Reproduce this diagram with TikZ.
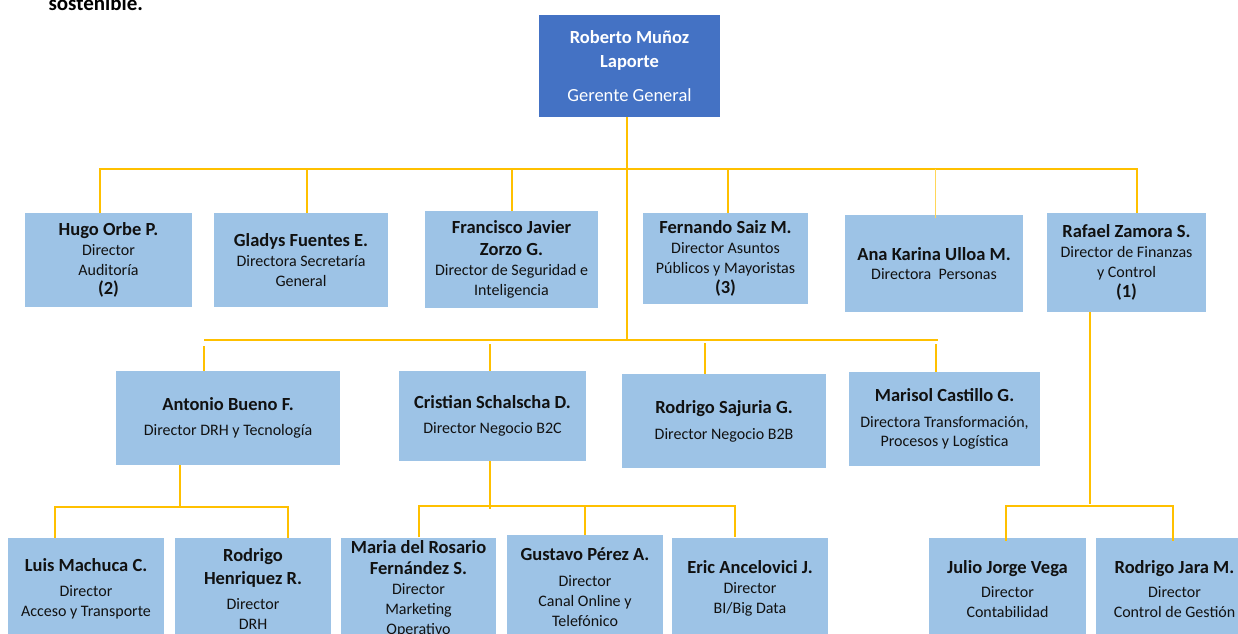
\documentclass[tikz,border=0pt]{standalone}
\usepackage{fontspec}
\setmainfont{Carlito}
\definecolor{ceoblue}{HTML}{4472C4}
\definecolor{boxblue}{HTML}{9DC3E6}
\definecolor{linegold}{HTML}{FFC000}
\definecolor{txt}{HTML}{111111}
\newcommand\nm{\fontsize{18.5}{20}\selectfont\bfseries}
\newcommand\nmb{\fontsize{18.5}{22}\selectfont\bfseries}
\begin{document}
\begin{tikzpicture}[x=1pt,y=-1pt,
  box/.style={fill=boxblue, text=txt, inner sep=0pt, align=center,
    font=\fontsize{16}{19.8}\selectfont},
  ceobox/.style={fill=ceoblue, text=white, inner sep=0pt, align=center,
    font=\fontsize{18.5}{23}\selectfont},
  conn/.style={draw=linegold, line width=1.4pt}]
\useasboundingbox (0,0) rectangle (1238,633);
\fill[white] (0,0) rectangle (1238,633);
\node[anchor=base west, font=\fontsize{21}{26}\selectfont\bfseries, text=black] (prev) at (45,10) {sostenible.};

% boxes
\node[ceobox, minimum width=181, minimum height=102] (ceo) at (629.5,66)
  {{\nmb Roberto Muñoz}\\[1pt]{\nmb Laporte}\\[11pt]Gerente General};

\node[box, minimum width=167, minimum height=94] (hugo) at (108.5,260)
  {{\nm Hugo Orbe P.}\\Director\\Auditoría\\{\nm (2)}};
\node[box, minimum width=174, minimum height=94] (gladys) at (301,260)
  {{\nm Gladys Fuentes E.}\\Directora Secretaría\\General};
\node[box, minimum width=173, minimum height=97] (fran) at (511.5,259.5)
  {{\nm Francisco Javier}\\[2pt]{\nm Zorzo G.}\\Director de Seguridad e\\Inteligencia};
\node[box, minimum width=165, minimum height=91] (fern) at (725.5,258.5)
  {{\nm Fernando Saiz M.}\\Director Asuntos\\Públicos y Mayoristas\\{\nm (3)}};
\node[box, minimum width=178, minimum height=97] (ana) at (934,263.5)
  {{\nm Ana Karina Ulloa M.}\\Directora\ \ Personas};
\node[box, minimum width=159, minimum height=99] (rafael) at (1126.5,262.5)
  {{\nm Rafael Zamora S.}\\Director de Finanzas\\y Control\\{\nm (1)}};

\node[box, minimum width=224, minimum height=94] (antonio) at (228,418)
  {{\nm Antonio Bueno F.}\\[5pt]Director DRH y Tecnología};
\node[box, minimum width=187, minimum height=90] (cristian) at (492.5,416)
  {{\nm Cristian Schalscha D.}\\[5pt]Director Negocio B2C};
\node[box, minimum width=204, minimum height=94] (rsaj) at (724,421)
  {{\nm Rodrigo Sajuria G.}\\[6pt]Director Negocio B2B};
\node[box, minimum width=191, minimum height=94] (marisol) at (944.5,419)
  {{\nm Marisol Castillo G.}\\[6pt]Directora Transformación,\\Procesos y Logística};

\node[box, minimum width=156, minimum height=102] (luis) at (86,589)
  {{\nm Luis Machuca C.}\\[5pt]Director\\Acceso y Transporte};
\node[box, minimum width=156, minimum height=102] (rhen) at (253,589)
  {{\nm Rodrigo}\\[3pt]{\nm Henriquez R.}\\[5pt]Director\\DRH};
\node[box, minimum width=155, minimum height=102] (maria) at (418.5,588.5)
  {{\nm Maria del Rosario}\\[2pt]{\nm Fernández S.}\\Director\\Marketing\\Operativo};
\node[box, minimum width=156, minimum height=104] (gustavo) at (585,587)
  {{\nm Gustavo Pérez A.}\\[6pt]Director\\Canal Online y\\Telefónico};
\node[box, minimum width=156, minimum height=102] (eric) at (750,588.5)
  {{\nm Eric Ancelovici J.}\\Director\\BI/Big Data};
\node[box, minimum width=157, minimum height=102] (julio) at (1007.5,589)
  {{\nm Julio Jorge Vega}\\[5pt]Director\\Contabilidad};
\node[box, minimum width=157, minimum height=102] (jara) at (1174.5,589)
  {{\nm Rodrigo Jara M.}\\[5pt]Director\\Control de Gestión};

% bus coordinates
\coordinate (bus2) at (0,169);
\coordinate (bus3) at (0,340);
\coordinate (busA) at (0,507);
\coordinate (busC) at (0,506);
\coordinate (busR) at (0,506);

% drop points
\coordinate (ceoD) at ([xshift=-2.5pt]ceo.south);
\coordinate (hugoU) at ([xshift=-8.5pt]hugo.north);
\coordinate (gladysU) at ([xshift=6pt]gladys.north);
\coordinate (franU) at ([xshift=0.5pt]fran.north);
\coordinate (fernU) at ([xshift=2.5pt]fern.north);
\coordinate (anaU) at ([xshift=1.5pt,yshift=-3pt]ana.north);
\coordinate (rafU) at ([xshift=10.5pt]rafael.north);
\coordinate (rafD) at ([xshift=-36.5pt]rafael.south);
\coordinate (antU) at ([xshift=-24pt]antonio.north);
\coordinate (antD) at ([xshift=-48pt]antonio.south);
\coordinate (criU) at ([xshift=-2.5pt]cristian.north);
\coordinate (criD) at ([xshift=-2.5pt]cristian.south);
\coordinate (rsajU) at ([xshift=-19pt]rsaj.north);
\coordinate (marU) at ([xshift=-8.5pt]marisol.north);
\coordinate (luisU) at ([xshift=-31pt]luis.north);
\coordinate (rhenU) at ([xshift=35pt]rhen.north);
\coordinate (mariaU) at ([xshift=0.5pt]maria.north);
\coordinate (gusU) at (gustavo.north);
\coordinate (ericU) at ([xshift=-15pt]eric.north);
\coordinate (julioU) at ([xshift=-1.5pt,yshift=-3pt]julio.north);
\coordinate (jaraU) at ([xshift=-1.5pt,yshift=-3pt]jara.north);

% level 1 -> 2 and 3
\draw[conn] (ceoD) -- (ceoD |- bus3);
\draw[conn] (hugoU) -- (hugoU |- bus2) -- (rafU |- bus2) -- (rafU);
\draw[conn] (gladysU |- bus2) -- (gladysU);
\draw[conn] (franU |- bus2) -- (franU);
\draw[conn] (fernU |- bus2) -- (fernU);
\draw[conn, line width=1.1pt, draw=linegold!65] (anaU |- bus2) -- (anaU);
% level 3
\draw[conn] ([yshift=-6pt]antU |- bus3) -- (antU);
\draw[conn] (antU |- bus3) -- ([xshift=2pt]marU |- bus3);
\draw[conn] ([yshift=-4pt]criU |- bus3) -- (criU);
\draw[conn] ([yshift=-3pt]rsajU |- bus3) -- (rsajU);
\draw[conn] ([yshift=-4pt]marU |- bus3) -- (marU);
% Antonio children
\draw[conn] (antD) -- (antD |- busA);
\draw[conn] (luisU) -- (luisU |- busA) -- (rhenU |- busA) -- (rhenU);
% Cristian children
\draw[conn] (criD) -- ([yshift=-3pt]criD |- busC);
\draw[conn] (mariaU) -- (mariaU |- busC) -- (ericU |- busC) -- (ericU);
\draw[conn] (gusU |- busC) -- (gusU);
% Rafael children
\draw[conn] (rafD) -- ([yshift=2pt]rafD |- busR);
\draw[conn] (julioU) -- (julioU |- busR) -- (jaraU |- busR) -- (jaraU);
\end{tikzpicture}
\end{document}
